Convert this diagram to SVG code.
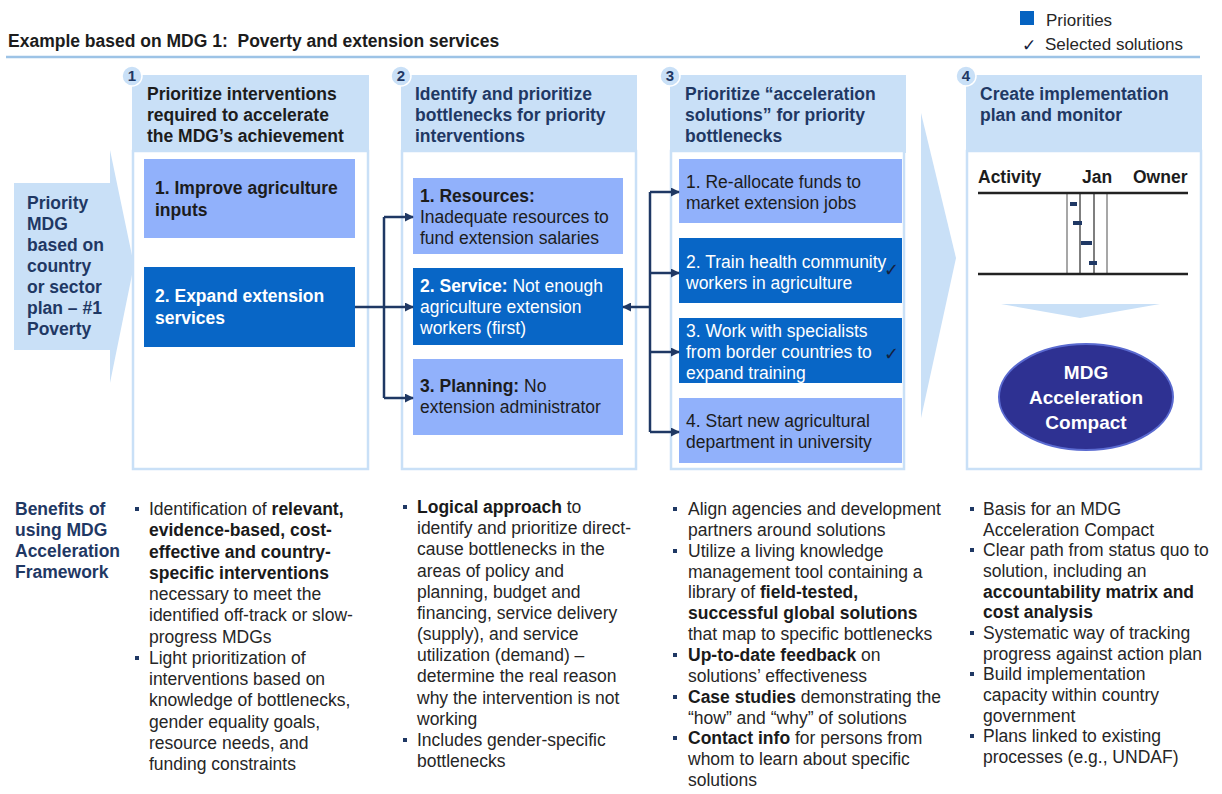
<svg xmlns="http://www.w3.org/2000/svg" width="1222" height="794" viewBox="0 0 1222 794">
<defs>
<style>
text{font-family:"Liberation Sans",Arial,sans-serif;font-size:17.5px;}
.b{font-weight:bold;}
.navy{fill:#1f3864;}
.dk{fill:#1c1c1c;}
.wh{fill:#ffffff;}
.body{fill:#262626;}
.hdr{fill:#c9e0f7;}
.colbody{fill:#ffffff;stroke:#c9e0f7;stroke-width:2.5;}
.light{fill:#91b1fb;}
.dark{fill:#0866c6;}
.num{font-size:15px;font-weight:bold;fill:#1f3864;text-anchor:middle;}
.conn{fill:none;stroke:#1f3864;stroke-width:2.5;}
.bul{fill:#1f3864;}
.chk{font-family:"DejaVu Sans",sans-serif;font-size:18px;fill:#14213d;}
</style>
<marker id="arr" viewBox="0 0 10 10" refX="9" refY="5" markerWidth="9" markerHeight="9" markerUnits="userSpaceOnUse" orient="auto">
<path d="M0,0 L10,5 L0,10 Z" fill="#1f3864"/>
</marker>
</defs>
<rect width="1222" height="794" fill="#ffffff"/>

<!-- title & legend -->
<g id="title">
<text x="8" y="47" class="b dk">Example based on MDG 1:&#160; Poverty and extension services</text>
<line x1="6" y1="57" x2="1200" y2="57" stroke="#9dc3e6" stroke-width="2.5"/>
</g>
<g id="legend">
<rect x="1020" y="11" width="14" height="14" fill="#0563c1"/>
<text x="1046" y="26" class="body" style="font-size:17px">Priorities</text>
<text x="1022" y="51" class="chk" style="font-size:17px">✓</text>
<text x="1045" y="50" class="body" style="font-size:17px">Selected solutions</text>
</g>

<!-- big chevrons -->
<g id="chevron-left">
<polygon points="14,183 110,183 110,150 134,265 110,383 110,350 14,350" fill="#c9e0f7"/>
<text class="b navy"><tspan x="27" y="209">Priority</tspan><tspan x="27" y="230">MDG</tspan><tspan x="27" y="251">based on</tspan><tspan x="27" y="272">country</tspan><tspan x="27" y="293">or sector</tspan><tspan x="27" y="314">plan – #1</tspan><tspan x="27" y="335">Poverty</tspan></text>
</g>
<g id="chevron-right">
<polygon points="921,113 956,258 921,418" fill="#c9e0f7"/>
</g>

<!-- column 1 -->
<g id="col1">
<rect x="132" y="75" width="237" height="78" class="hdr"/>
<rect x="133" y="151" width="235" height="318" class="colbody"/>
<circle cx="132" cy="76" r="10" class="hdr" stroke="#ffffff" stroke-width="1.5"/>
<text x="132" y="81" class="num">1</text>
<text class="b dk"><tspan x="147" y="100">Prioritize interventions</tspan><tspan x="147" y="121">required to accelerate</tspan><tspan x="147" y="142">the MDG’s achievement</tspan></text>
</g>
<g id="c1-n1">
<rect x="144" y="159" width="211" height="79" class="light"/>
<text class="b dk"><tspan x="155" y="194">1. Improve agriculture</tspan><tspan x="155" y="216">inputs</tspan></text>
</g>
<g id="c1-n2">
<rect x="144" y="267" width="211" height="80" class="dark"/>
<text class="b wh"><tspan x="155" y="302">2. Expand extension</tspan><tspan x="155" y="324">services</tspan></text>
</g>

<!-- column 2 -->
<g id="col2">
<rect x="401" y="75" width="236" height="78" class="hdr"/>
<rect x="402" y="151" width="234" height="318" class="colbody"/>
<circle cx="401" cy="76" r="10" class="hdr" stroke="#ffffff" stroke-width="1.5"/>
<text x="401" y="81" class="num">2</text>
<text class="b navy"><tspan x="415" y="100">Identify and prioritize</tspan><tspan x="415" y="121">bottlenecks for priority</tspan><tspan x="415" y="142">interventions</tspan></text>
</g>
<g id="c2-n1">
<rect x="413" y="178" width="210" height="76" class="light"/>
<text class="dk"><tspan x="420" y="202" class="b">1. Resources:</tspan><tspan x="420" y="223">Inadequate resources to</tspan><tspan x="420" y="244">fund extension salaries</tspan></text>
</g>
<g id="c2-n2">
<rect x="413" y="268" width="210" height="77" class="dark"/>
<text class="wh"><tspan x="420" y="292" class="b">2. Service:</tspan><tspan> Not enough</tspan><tspan x="420" y="313">agriculture extension</tspan><tspan x="420" y="334">workers (first)</tspan></text>
</g>
<g id="c2-n3">
<rect x="413" y="359" width="210" height="76" class="light"/>
<text class="dk"><tspan x="420" y="392" class="b">3. Planning:</tspan><tspan> No</tspan><tspan x="420" y="413">extension administrator</tspan></text>
</g>

<!-- column 3 -->
<g id="col3">
<rect x="670" y="75" width="236" height="78" class="hdr"/>
<rect x="671" y="151" width="233" height="318" class="colbody"/>
<circle cx="670" cy="76" r="10" class="hdr" stroke="#ffffff" stroke-width="1.5"/>
<text x="670" y="81" class="num">3</text>
<text class="b navy"><tspan x="685" y="100">Prioritize “acceleration</tspan><tspan x="685" y="121">solutions” for priority</tspan><tspan x="685" y="142">bottlenecks</tspan></text>
</g>
<g id="c3-n1">
<rect x="679" y="159" width="223" height="64" class="light"/>
<text class="dk"><tspan x="686" y="188">1. Re-allocate funds to</tspan><tspan x="686" y="209">market extension jobs</tspan></text>
</g>
<g id="c3-n2">
<rect x="679" y="238" width="223" height="65" class="dark"/>
<text class="wh"><tspan x="686" y="268">2. Train health community</tspan><tspan x="686" y="289">workers in agriculture</tspan></text>
<text x="884" y="276" class="chk">✓</text>
</g>
<g id="c3-n3">
<rect x="679" y="318" width="223" height="65" class="dark"/>
<text class="wh"><tspan x="686" y="337">3. Work with specialists</tspan><tspan x="686" y="358">from border countries to</tspan><tspan x="686" y="379">expand training</tspan></text>
<text x="884" y="360" class="chk">✓</text>
</g>
<g id="c3-n4">
<rect x="679" y="398" width="223" height="65" class="light"/>
<text class="dk"><tspan x="686" y="427">4. Start new agricultural</tspan><tspan x="686" y="448">department in university</tspan></text>
</g>

<!-- column 4 -->
<g id="col4">
<rect x="966" y="75" width="236" height="78" class="hdr"/>
<rect x="967" y="151" width="234" height="318" class="colbody"/>
<circle cx="966" cy="76" r="10" class="hdr" stroke="#ffffff" stroke-width="1.5"/>
<text x="966" y="81" class="num">4</text>
<text class="b navy"><tspan x="980" y="100">Create implementation</tspan><tspan x="980" y="121">plan and monitor</tspan></text>
</g>
<g id="gantt">
<text class="b dk"><tspan x="978" y="183">Activity</tspan><tspan x="1082" y="183">Jan</tspan><tspan x="1133" y="183">Owner</tspan></text>
<line x1="1067" y1="193" x2="1067" y2="274" stroke="#8a8a8a" stroke-width="1.5"/>
<line x1="1080" y1="193" x2="1080" y2="274" stroke="#555555" stroke-width="1.5"/>
<line x1="1094" y1="193" x2="1094" y2="274" stroke="#555555" stroke-width="1.5"/>
<line x1="1107" y1="193" x2="1107" y2="274" stroke="#8a8a8a" stroke-width="1.5"/>
<line x1="978" y1="193" x2="1188" y2="193" stroke="#222222" stroke-width="2.5"/>
<line x1="978" y1="274" x2="1188" y2="274" stroke="#222222" stroke-width="2.5"/>
<rect x="1070" y="202" width="7" height="4" fill="#1f3864"/>
<rect x="1073" y="221" width="9" height="4" fill="#1f3864"/>
<rect x="1081" y="241" width="11" height="4" fill="#1f3864"/>
<rect x="1089" y="261" width="8" height="4" fill="#1f3864"/>
</g>
<g id="down-arrow">
<polygon points="1001,304 1160,304 1080,318" fill="#c9e0f7"/>
</g>
<g id="compact">
<ellipse cx="1086" cy="397" rx="87" ry="53" fill="#2e3192" stroke="#5a6ad0" stroke-width="2"/>
<text class="b wh" text-anchor="middle" style="font-size:19px"><tspan x="1086" y="379">MDG</tspan><tspan x="1086" y="404">Acceleration</tspan><tspan x="1086" y="429">Compact</tspan></text>
</g>

<!-- connectors -->
<g id="connectors">
<path d="M355,307 H384" class="conn"/>
<path d="M384,217 V398" class="conn"/>
<path d="M384,217 H413" class="conn" marker-end="url(#arr)"/>
<path d="M384,307 H413" class="conn" marker-end="url(#arr)"/>
<path d="M384,398 H413" class="conn" marker-end="url(#arr)"/>
<path d="M650,307 H623" class="conn" marker-end="url(#arr)"/>
<path d="M650,192 V432" class="conn"/>
<path d="M650,192 H679" class="conn" marker-end="url(#arr)"/>
<path d="M650,273 H679" class="conn" marker-end="url(#arr)"/>
<path d="M650,352 H679" class="conn" marker-end="url(#arr)"/>
<path d="M650,432 H679" class="conn" marker-end="url(#arr)"/>
</g>

<!-- benefits -->
<g id="benefits-label">
<text class="b navy"><tspan x="15" y="515">Benefits of</tspan><tspan x="15" y="536">using MDG</tspan><tspan x="15" y="557">Acceleration</tspan><tspan x="15" y="578">Framework</tspan></text>
</g>
<g id="benefits-1">
<rect x="135" y="507" width="4" height="4" class="bul"/>
<rect x="135" y="656" width="4" height="4" class="bul"/>
<text class="body">
<tspan x="149" y="515">Identification of </tspan><tspan class="b" fill="#1a1a1a">relevant,</tspan>
<tspan x="149" y="536.3" class="b" fill="#1a1a1a">evidence-based, cost-</tspan>
<tspan x="149" y="557.5" class="b" fill="#1a1a1a">effective and country-</tspan>
<tspan x="149" y="578.8" class="b" fill="#1a1a1a">specific interventions</tspan>
<tspan x="149" y="600">necessary to meet the</tspan>
<tspan x="149" y="621.3">identified off-track or slow-</tspan>
<tspan x="149" y="642.5">progress MDGs</tspan>
<tspan x="149" y="663.8">Light prioritization of</tspan>
<tspan x="149" y="685">interventions based on</tspan>
<tspan x="149" y="706.3">knowledge of bottlenecks,</tspan>
<tspan x="149" y="727.5">gender equality goals,</tspan>
<tspan x="149" y="748.8">resource needs, and</tspan>
<tspan x="149" y="770">funding constraints</tspan>
</text>
</g>
<g id="benefits-2">
<rect x="403" y="505" width="4" height="4" class="bul"/>
<rect x="403" y="738" width="4" height="4" class="bul"/>
<text class="body">
<tspan x="417" y="513" class="b" fill="#1a1a1a">Logical approach</tspan><tspan> to</tspan>
<tspan x="417" y="534.2">identify and prioritize direct-</tspan>
<tspan x="417" y="555.3">cause bottlenecks in the</tspan>
<tspan x="417" y="576.5">areas of policy and</tspan>
<tspan x="417" y="597.7">planning, budget and</tspan>
<tspan x="417" y="618.8">financing, service delivery</tspan>
<tspan x="417" y="640">(supply), and service</tspan>
<tspan x="417" y="661.2">utilization (demand) –</tspan>
<tspan x="417" y="682.3">determine the real reason</tspan>
<tspan x="417" y="703.5">why the intervention is not</tspan>
<tspan x="417" y="724.7">working</tspan>
<tspan x="417" y="745.8">Includes gender-specific</tspan>
<tspan x="417" y="767">bottlenecks</tspan>
</text>
</g>
<g id="benefits-3">
<rect x="673" y="507" width="4" height="4" class="bul"/>
<rect x="673" y="549" width="4" height="4" class="bul"/>
<rect x="673" y="653" width="4" height="4" class="bul"/>
<rect x="673" y="695" width="4" height="4" class="bul"/>
<rect x="673" y="736" width="4" height="4" class="bul"/>
<text class="body">
<tspan x="688" y="515">Align agencies and development</tspan>
<tspan x="688" y="535.8">partners around solutions</tspan>
<tspan x="688" y="556.7">Utilize a living knowledge</tspan>
<tspan x="688" y="577.5">management tool containing a</tspan>
<tspan x="688" y="598.4">library of </tspan><tspan class="b" fill="#1a1a1a">field-tested,</tspan>
<tspan x="688" y="619.2" class="b" fill="#1a1a1a">successful global solutions</tspan>
<tspan x="688" y="640.1">that map to specific bottlenecks</tspan>
<tspan x="688" y="660.9" class="b" fill="#1a1a1a">Up-to-date feedback</tspan><tspan> on</tspan>
<tspan x="688" y="681.8">solutions’ effectiveness</tspan>
<tspan x="688" y="702.6" class="b" fill="#1a1a1a">Case studies</tspan><tspan> demonstrating the</tspan>
<tspan x="688" y="723.5">“how” and “why” of solutions</tspan>
<tspan x="688" y="744.3" class="b" fill="#1a1a1a">Contact info</tspan><tspan> for persons from</tspan>
<tspan x="688" y="765.2">whom to learn about specific</tspan>
<tspan x="688" y="786">solutions</tspan>
</text>
</g>
<g id="benefits-4">
<rect x="970" y="507" width="4" height="4" class="bul"/>
<rect x="970" y="548" width="4" height="4" class="bul"/>
<rect x="970" y="631" width="4" height="4" class="bul"/>
<rect x="970" y="672" width="4" height="4" class="bul"/>
<rect x="970" y="734" width="4" height="4" class="bul"/>
<text class="body">
<tspan x="983" y="515">Basis for an MDG</tspan>
<tspan x="983" y="535.7">Acceleration Compact</tspan>
<tspan x="983" y="556.3">Clear path from status quo to</tspan>
<tspan x="983" y="577">solution, including an</tspan>
<tspan x="983" y="597.7" class="b" fill="#1a1a1a">accountability matrix and</tspan>
<tspan x="983" y="618.3" class="b" fill="#1a1a1a">cost analysis</tspan>
<tspan x="983" y="639">Systematic way of tracking</tspan>
<tspan x="983" y="659.7">progress against action plan</tspan>
<tspan x="983" y="680.3">Build implementation</tspan>
<tspan x="983" y="701">capacity within country</tspan>
<tspan x="983" y="721.7">government</tspan>
<tspan x="983" y="742.3">Plans linked to existing</tspan>
<tspan x="983" y="763">processes (e.g., UNDAF)</tspan>
</text>
</g>
</svg>
